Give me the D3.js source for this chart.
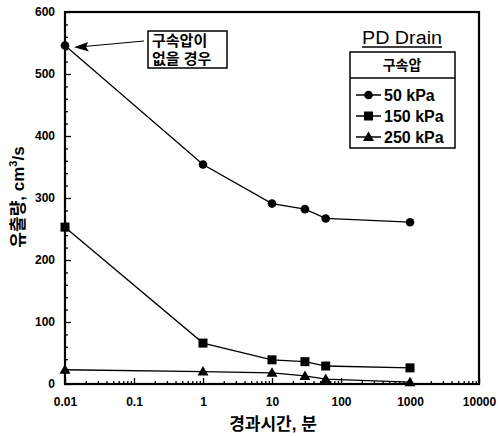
<!DOCTYPE html>
<html><head><meta charset="utf-8">
<script src="https://cdn.jsdelivr.net/npm/d3@7"></script>
<style>
body{margin:0;background:#fff}
text{font-family:"Liberation Sans","Noto Sans CJK KR",Arial,sans-serif;fill:#000}
</style>
</head><body><svg id="c" width="498" height="436"></svg>
<script>
const times=[0.01,1,10,30,60,1000];
const flow50=[546,354,291,282,267,261];
const flow150=[253,66,39,36,29,26];
const flow250=[23,20,18,13,8,3];
const seriesNames=["50 kPa","150 kPa","250 kPa"];
const seriesShapes=["circle","square","triangle"];
const xTicks=[0.01,0.1,1,10,100,1000,10000];
const xTickLabels=["0.01","0.1","1","10","100","1000","10000"];
const yTicks=[0,100,200,300,400,500,600];
const xTitle="경과시간, 분";
const legendTitle="PD Drain";
const legendHeader="구속압";
const noteLines=["구속압이","없을 경우"];

const svg=d3.select("#c");
const L=65,R=479,T=12,B=384;
const x=d3.scaleLog().domain([0.01,10000]).range([L,R]);
const y=d3.scaleLinear().domain([0,600]).range([B,T]);

// minor ticks
const xMinor=[];
for(let e=-2;e<4;e++){for(let k=2;k<10;k++)xMinor.push(k*Math.pow(10,e));}
const yMinor=d3.range(0,601,20).filter(v=>v%100!==0);

const gx=svg.append("g").attr("transform",`translate(0,${B})`)
 .call(d3.axisBottom(x).tickValues(xTicks).tickFormat((d,i)=>xTickLabels[i]).tickSize(-6).tickPadding(13));
const gxm=svg.append("g").attr("transform",`translate(0,${B})`)
 .call(d3.axisBottom(x).tickValues(xMinor).tickFormat("").tickSize(-3));
const gy=svg.append("g").attr("transform",`translate(${L},0)`)
 .call(d3.axisLeft(y).tickValues(yTicks).tickSize(-6).tickPadding(10));
const gym=svg.append("g").attr("transform",`translate(${L},0)`)
 .call(d3.axisLeft(y).tickValues(yMinor).tickFormat("").tickSize(-3));
[gx,gxm,gy,gym].forEach(g=>{g.select(".domain").remove();g.selectAll("line").attr("stroke","#000").attr("stroke-width",1.3);});
[gx,gy].forEach(g=>g.selectAll("text").attr("font-size",12).attr("font-weight","bold").attr("fill","#000"));

// frame
svg.append("rect").attr("x",L).attr("y",T).attr("width",R-L).attr("height",B-T)
 .attr("fill","none").attr("stroke","#000").attr("stroke-width",2.2);

// titles
svg.append("text").attr("x",273).attr("y",430).attr("text-anchor","middle")
 .attr("font-size",17).attr("font-weight","bold").text(xTitle);
const yt=svg.append("text").attr("transform","translate(24,197) rotate(-90)").attr("text-anchor","middle")
 .attr("font-size",17).attr("font-weight","bold");
yt.append("tspan").text("유출량, cm");
yt.append("tspan").attr("dy",-7).attr("font-size",11).text("3");
yt.append("tspan").attr("dy",7).text("/s");

// series
const series=[flow50,flow150,flow250];
const line=d3.line().x(d=>x(d[0])).y(d=>y(d[1]));
function marker(g,shape,cx,cy){
 if(shape==="circle")g.append("circle").attr("cx",cx).attr("cy",cy).attr("r",4.3).attr("fill","#000");
 else if(shape==="square")g.append("rect").attr("x",cx-4.5).attr("y",cy-4.5).attr("width",9).attr("height",9).attr("fill","#000");
 else g.append("path").attr("d",`M${cx},${cy-5.5}L${cx+5.5},${cy+4}L${cx-5.5},${cy+4}Z`).attr("fill","#000");
}
series.forEach((vals,si)=>{
 const pts=times.map((t,i)=>[t,vals[i]]);
 svg.append("path").attr("d",line(pts)).attr("fill","none").attr("stroke","#000").attr("stroke-width",1.3);
 const g=svg.append("g");
 pts.forEach(p=>marker(g,seriesShapes[si],x(p[0]),y(p[1])));
});

// annotation
svg.append("rect").attr("x",148).attr("y",31).attr("width",79).attr("height",37)
 .attr("fill","#fff").attr("stroke","#000").attr("stroke-width",1.5);
noteLines.forEach((t,i)=>svg.append("text").attr("x",152).attr("y",46+i*18)
 .attr("font-size",15).attr("font-weight","bold").text(t));
svg.append("line").attr("x1",144).attr("y1",41).attr("x2",84).attr("y2",46.5).attr("stroke","#000").attr("stroke-width",1.2);
svg.append("path").attr("d","M74,47.3L88,42L86,47L89,51.5Z").attr("fill","#000");

// legend
svg.append("text").attr("x",402).attr("y",44).attr("text-anchor","middle")
 .attr("font-size",18).attr("textLength",80).attr("lengthAdjust","spacingAndGlyphs").text(legendTitle);
svg.append("line").attr("x1",362).attr("x2",442).attr("y1",47).attr("y2",47).attr("stroke","#000").attr("stroke-width",1.5);
svg.append("rect").attr("x",350).attr("y",52).attr("width",105).attr("height",96)
 .attr("fill","#fff").attr("stroke","#000").attr("stroke-width",1.5);
svg.append("line").attr("x1",350).attr("x2",455).attr("y1",78).attr("y2",78).attr("stroke","#000").attr("stroke-width",1.5);
svg.append("text").attr("x",402).attr("y",70).attr("text-anchor","middle")
 .attr("font-size",14).attr("font-weight","bold").text(legendHeader);
seriesNames.forEach((n,i)=>{
 const cy=95+i*21;
 svg.append("line").attr("x1",356).attr("x2",381).attr("y1",cy).attr("y2",cy).attr("stroke","#000").attr("stroke-width",1.5);
 marker(svg,seriesShapes[i],368.5,cy);
 svg.append("text").attr("x",384).attr("y",cy+6).attr("font-size",16).attr("font-weight","bold").text(n);
});
</script></body></html>
